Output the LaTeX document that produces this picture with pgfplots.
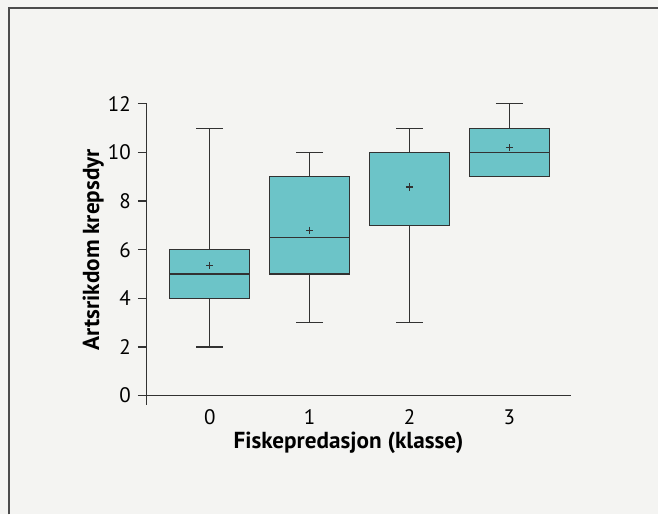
\documentclass[border=0pt]{standalone}
\usepackage{fontspec}
\setmainfont{PT Sans}
\usepackage{pgfplots}
\pgfplotsset{compat=1.18}
\usepgfplotslibrary{statistics}
\definecolor{boxfill}{RGB}{108,196,200}
\definecolor{bg}{RGB}{244,244,242}
\definecolor{axcol}{RGB}{50,50,50}
\begin{document}
\begin{tikzpicture}
\fill[bg] (0,0) rectangle (329.5pt,257.5pt);
\draw[gray!60!black, line width=0.8pt] (4.5pt,0) -- (4.5pt,253.5pt) -- (329.5pt,253.5pt);
\begin{axis}[
  at={(73.5pt,59.5pt)}, anchor=south west,
  scale only axis, width=212.5pt, height=146pt,
  xmin=-0.63, xmax=3.62, ymin=0, ymax=12,
  axis x line*=bottom, axis y line*=left,
  axis line style={axcol, line width=0.6pt},
  xtick={0,1,2,3},
  ytick={0,2,4,6,8,10,12},
  major x tick style={draw=none},
  major y tick style={axcol, line width=0.6pt},
  tick align=outside, major tick length=4.5pt,
  tick label style={font=\fontsize{10.5}{12}\selectfont},
  xticklabel style={yshift=1pt},
  /pgf/number format/assume math mode=true,
  every axis x label/.style={at={(axis description cs:0.475,0)}, anchor=center, yshift=-23.5pt},
  every axis y label/.style={at={(axis description cs:-0.126,0.5)}, rotate=90, anchor=center},
  label style={font=\fontsize{11.6}{13}\selectfont\bfseries},
  xlabel={Fiskepredasjon (klasse)},
  ylabel={Artsrikdom krepsdyr},
  clip=false,
  boxplot/draw direction=y,
  boxplot/every average/.style={/tikz/mark=+, /tikz/mark size=1.8pt, /tikz/mark options={black, line width=0.5pt}},
]
\draw[axcol, line width=0.6pt] (rel axis cs:0,0) -- ([yshift=-4.5pt]rel axis cs:0,0);
\addplot[draw=axcol, line width=0.6pt, fill=boxfill, boxplot prepared={draw position=0, lower whisker=2, lower quartile=4, median=5, upper quartile=6, upper whisker=11, average=5.35, box extend=0.8, whisker extend=0.27}] coordinates {};
\addplot[draw=axcol, line width=0.6pt, fill=boxfill, boxplot prepared={draw position=1, lower whisker=3, lower quartile=5, median=6.5, upper quartile=9, upper whisker=10, average=6.8, box extend=0.8, whisker extend=0.27}] coordinates {};
\addplot[draw=axcol, line width=0.6pt, fill=boxfill, boxplot prepared={draw position=2, lower whisker=3, lower quartile=7, median=10, upper quartile=10, upper whisker=11, average=8.58, box extend=0.8, whisker extend=0.27}] coordinates {};
\addplot[draw=axcol, line width=0.6pt, fill=boxfill, boxplot prepared={draw position=3, lower whisker=9, lower quartile=9, median=10, upper quartile=11, upper whisker=12, average=10.19, box extend=0.8, whisker extend=0.27}] coordinates {};
\end{axis}
\end{tikzpicture}
\end{document}
